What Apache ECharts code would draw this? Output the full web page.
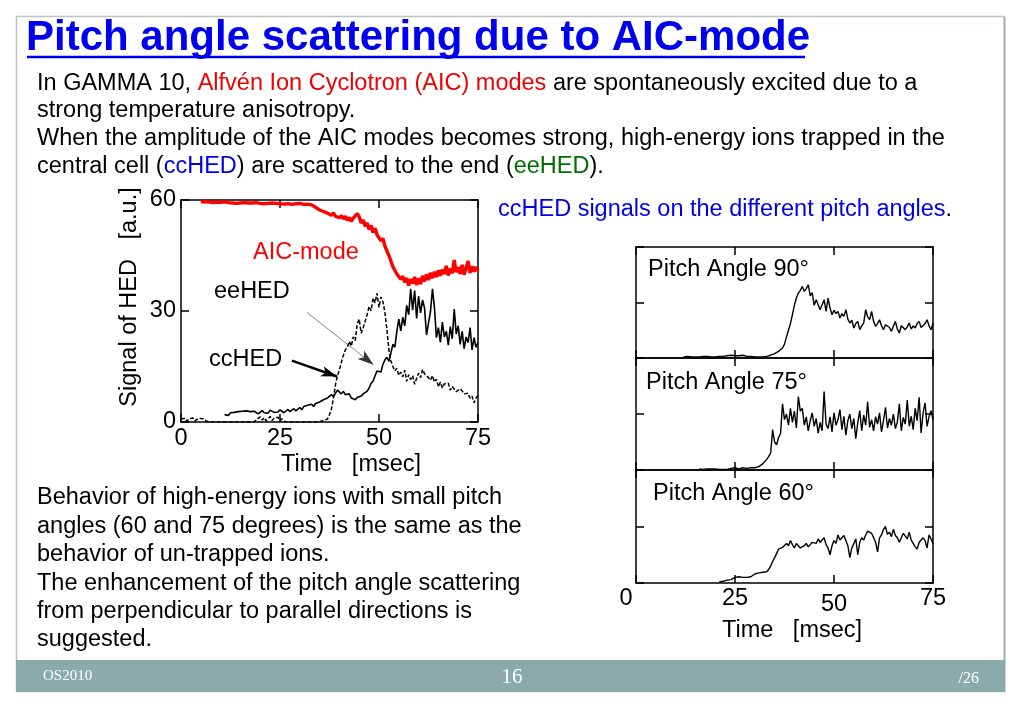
<!DOCTYPE html>
<html>
<head>
<meta charset="utf-8">
<script src="https://cdn.jsdelivr.net/npm/echarts@6/dist/echarts.min.js"></script>
<style>
html,body{margin:0;padding:0;background:#fff;}
#c{width:1023px;height:708px;}
</style>
</head>
<body>
<div id="c"></div>
<script>
// ---------- data (sampled every 0.5 msec) ----------
const STEP = 0.5;
const aicStart = 5;
const aicValues = [
 59.5,59.4,59.6,59.3,59.5,59.4,59.3,59.5,59.4,59.2,59.4,59.3,59.5,59.2,59.3,59.4,59.2,59.3,59.1,59.3,
 59.2,59.0,59.3,59.1,59.2,59.0,59.2,59.1,59.3,59.0,59.1,59.2,59.0,59.2,59.1,58.9,59.2,59.0,59.1,59.2,
 59.0,59.1,58.9,59.2,59.0,59.1,58.8,59.1,59.0,58.9,59.1,59.0,58.8,59.1,58.9,59.0,
 58.7,58.4,58.0,57.8,57.3,57.6,56.9,57.0,56.4,56.8,55.9,56.5,55.6,56.1,
 55.2,55.8,54.9,55.6,54.5,55.3,54.2,55.1,54.6,56.3,
 55.5,53.8,54.6,52.9,53.8,52.0,53.1,51.2,52.4,50.6,
 50.5,49.0,49.6,47.5,47.2,45.0,44.5,42.0,41.8,40.0,
 40.5,38.6,39.4,37.8,38.9,36.9,38.6,37.4,39.2,37.0,
 38.8,37.3,39.5,38.0,39.9,38.4,40.3,38.9,40.6,39.2,
 41.0,39.5,41.2,40.0,42.2,39.6,41.5,40.2,43.8,40.5,
 41.8,40.0,42.5,39.8,41.6,43.5,40.3,42.1,40.6,41.9,40.8
];
const ccStart = 11;
const ccValues = [
 2.0,2.3,1.8,2.5,2.2,2.6,2.1,2.8,2.4,2.9,2.6,3.0,2.5,2.8,2.3,2.9,2.6,2.2,
 2.7,3.1,2.5,2.9,2.4,3.2,2.8,2.6,3.1,2.7,3.3,2.9,2.5,3.0,3.4,2.8,3.2,3.6,3.0,3.5,
 3.9,3.3,4.2,3.7,4.5,4.0,4.8,4.2,5.0,4.6,5.4,5.1,6.0,5.6,6.5,6.9,
 7.4,6.8,7.8,8.6,8.1,7.6,8.3,7.4,7.0,7.6,6.5,6.2,6.0,6.6,
 6.3,7.0,7.6,7.2,8.3,9.2,10.4,11.0,12.5,13.8,
 14.2,13.5,15.6,16.8,17.5,16.4,18.6,21.0,20.2,24.5,
 27.8,24.6,28.3,26.0,31.5,29.0,36.0,30.2,35.5,28.0,
 34.0,29.5,33.0,30.8,23.5,26.8,29.8,36.0,31.0,22.8,
 25.5,21.5,27.0,23.0,24.5,20.8,25.8,22.5,30.5,23.8,
 26.0,21.0,24.5,19.8,23.0,21.5,25.5,19.5,22.8,20.2,21.5
];
const eeStart = 0;
const eeValues = [
 0.8,0.3,1.0,0.2,0.9,0.4,1.1,0.3,0.8,1.0,1.1,0.9,1.0,0.2,0,0,0,0,0,0,
 0,0,0,0,0,0,0,0,0,0,0,0,0,0,0,0,0,0,0.6,0.2,
 1.4,0.5,1.2,0.3,0.8,1.5,0.4,1.0,0.6,1.3,0.3,0.9,0.2,0,0,0,0,0,0,0,
 0,0,0,0,0,0,0,0,0,0.2,0.1,0.3,0.4,0.6,
 0.8,2.0,3.5,6.5,10.0,12.5,14.0,16.2,18.0,19.5,
 20.2,21.8,20.5,23.0,22.0,26.5,27.8,24.0,25.5,27.2,
 29.0,31.2,30.0,33.5,32.2,34.8,31.0,33.8,32.5,29.5,
 25.0,19.5,16.5,15.0,13.8,14.5,12.6,13.5,12.2,14.0,
 11.0,12.8,11.5,12.5,10.2,11.8,13.2,12.0,14.2,13.0,
 13.5,12.0,11.3,12.5,10.8,11.6,9.5,10.8,9.2,10.3,
 9.8,10.5,8.6,9.6,8.9,8.2,8.0,9.0,8.4,7.6,
 7.2,7.8,6.4,7.0,5.2,6.5,7.2
];
const p90Start = 12;
const p90Values = [
 0.02,0.02,0.03,0.02,0.02,0.03,0.02,0.03,0.02,0.02,0.03,0.02,0.03,0.03,0.02,0.03,0.02,0.03,0.03,0.02,
 0.03,0.03,0.04,0.03,0.05,0.04,0.04,0.05,0.04,0.03,0.05,0.04,0.03,0.04,0.03,0.03,
 0.02,0.03,0.02,0.03,0.02,0.03,0.03,0.04,0.05,0.06,0.08,0.10,
 0.12,0.14,0.18,0.25,0.38,0.50,0.62,0.78,
 0.95,1.08,1.17,1.22,1.29,1.20,1.25,1.32,1.12,1.18,
 0.95,1.05,1.08,0.87,0.96,1.05,0.84,1.08,0.90,0.78,
 0.86,0.80,0.84,0.72,0.80,0.75,0.87,0.70,0.63,0.68,
 0.54,0.62,0.66,0.51,0.58,0.63,0.87,0.74,0.69,0.84,
 0.66,0.57,0.62,0.69,0.58,0.51,0.60,0.63,0.55,0.48,
 0.57,0.66,0.52,0.45,0.58,0.60,0.51,0.56,0.63,0.52,
 0.58,0.54,0.62,0.66,0.55,0.57,0.62,0.69,0.58,0.51,0.62
];
const p75Start = 16;
const p75Values = [
 0.02,0.03,0.01,0.03,0.02,0.03,0.02,0.01,0.02,0.01,0.01,0.02,0.01,0.01,0.01,0.02,
 0.03,0.02,0.04,0.03,0.02,0.03,0.04,0.02,0.03,0.03,0.04,0.03,
 0.04,0.05,0.06,0.08,0.11,0.15,0.19,0.24,
 0.30,0.72,0.50,0.45,0.58,0.65,1.18,0.90,1.00,0.80,1.10,0.85,
 1.05,0.75,1.31,1.05,1.10,0.80,0.95,0.70,0.88,1.02,
 0.78,0.92,0.66,0.85,0.70,1.40,0.82,0.74,0.95,0.68,
 1.02,0.80,0.90,1.08,0.72,0.96,0.62,0.88,1.00,0.74,
 0.92,0.56,0.84,1.06,0.70,0.98,0.80,1.22,0.76,0.90,
 0.70,0.95,0.82,1.02,0.68,0.88,1.12,0.75,0.92,0.80,
 1.00,0.74,0.86,1.18,0.70,0.94,0.82,1.25,0.78,0.96,
 0.72,1.10,0.88,1.30,0.66,1.02,1.20,0.78,0.95,1.06,0.90
];
const p60Start = 21;
const p60Values = [
 0.02,0.04,0.03,0.06,0.05,0.08,0.06,0.09,
 0.10,0.08,0.11,0.09,0.10,0.12,0.10,0.13,0.11,0.12,
 0.16,0.14,0.18,0.15,0.19,0.17,0.20,0.24,0.30,0.38,
 0.45,0.52,0.60,0.57,0.63,0.60,0.70,0.66,0.75,0.68,
 0.62,0.70,0.68,0.62,0.60,0.66,0.70,0.64,0.65,0.72,
 0.75,0.70,0.78,0.72,0.72,0.80,0.68,0.62,0.50,0.66,
 0.75,0.70,0.85,0.76,0.78,0.84,0.82,0.66,0.45,0.62,
 0.70,0.78,0.50,0.72,0.80,0.76,0.85,0.92,0.95,0.88,
 0.90,0.72,0.55,0.80,0.85,0.95,1.00,0.86,0.90,0.82,
 0.95,0.84,0.80,0.72,0.70,0.88,0.85,0.78,0.90,0.76,
 0.75,0.64,0.60,0.72,0.70,0.80,0.75,0.62,0.85,0.78,0.70
];
const timeTicks = [0, 25, 50, 75];
const leftYTicks = [0, 30, 60];

// ---------- helpers ----------
function pairs(start, vals){ return vals.map((v,i)=>[start + i*STEP, v]); }
const SANS = '"Liberation Sans", Arial, Helvetica, sans-serif';
const SERIF = '"Liberation Serif", "Times New Roman", serif';
const FS = 23.5;

function mkLine(){ return {show:true, onZero:false, lineStyle:{color:'#000', width:1.5}}; }
function mkTick(){ return {show:true, inside:true, length:8, lineStyle:{color:'#000', width:1.5}}; }

function axisPair(gridIndex, showLabel, labelOpts){
  return [
    {type:'value', gridIndex, min:timeTicks[0], max:timeTicks[3], interval:timeTicks[1]-timeTicks[0], position:'bottom',
     axisLine:mkLine(), axisTick:mkTick(), splitLine:{show:false},
     axisLabel: Object.assign({show:showLabel, color:'#000', fontSize:FS, fontFamily:SANS, margin:5}, labelOpts||{})},
    {type:'value', gridIndex, min:timeTicks[0], max:timeTicks[3], interval:timeTicks[1]-timeTicks[0], position:'top',
     axisLine:mkLine(), axisTick:mkTick(), splitLine:{show:false}, axisLabel:{show:false}}
  ];
}
function yPair(gridIndex, showLabel, yMax, yInt){
  return [
    {type:'value', gridIndex, min:0, max:yMax, interval:yInt, position:'left',
     axisLine:mkLine(), axisTick:mkTick(), splitLine:{show:false},
     axisLabel:{show:showLabel, color:'#000', fontSize:FS, fontFamily:SANS, margin:5}},
    {type:'value', gridIndex, min:0, max:yMax, interval:yInt, position:'right',
     axisLine:mkLine(), axisTick:mkTick(), splitLine:{show:false}, axisLabel:{show:false}}
  ];
}

const xAxes = [].concat(
  axisPair(0, true),
  axisPair(1, false),
  axisPair(2, false),
  axisPair(3, true, {
    margin:4,
    formatter: v => v === 0 ? '{z|0}' : (v === 50 ? '{f|50}' : String(v)),
    rich:{ z:{fontSize:FS, fontFamily:SANS, color:'#000', padding:[0,20,0,0]},
           f:{fontSize:FS, fontFamily:SANS, color:'#000', padding:[6,0,0,0]} }
  })
);
const yAxes = [].concat(
  yPair(0, true, leftYTicks[2], leftYTicks[1]-leftYTicks[0]),
  yPair(1, false, 2, 1),
  yPair(2, false, 2, 1),
  yPair(3, false, 2, 1)
);

function lineSeries(name, data, xi, yi, color, width, type, extra){
  return Object.assign({
    name, type:'line', data, xAxisIndex:xi, yAxisIndex:yi,
    showSymbol:false, symbol:'none', animation:false, silent:true,
    lineStyle:{color, width, type: type||'solid'}, z:3
  }, extra||{});
}

const series = [
  lineSeries('eeHED', pairs(eeStart, eeValues), 0, 0, '#000', 1.5, [4,2]),
  lineSeries('ccHED', pairs(ccStart, ccValues), 0, 0, '#000', 1.6, 'solid', {
    markLine:{
      silent:true, animation:false, label:{show:false},
      symbol:['none','arrow'],
      data:[
        [{coord:[28,16.6], lineStyle:{width:2.5, color:'#000', type:'solid'}, symbolSize:14},
         {coord:[39.4,12.3]}],
        [{coord:[31.8,29.6], lineStyle:{width:0.6, color:'#333', type:'solid'}, symbolSize:8},
         {coord:[48.6,15.5]}]
      ]
    }
  }),
  lineSeries('AIC-mode', pairs(aicStart, aicValues), 0, 0, '#ff0000', 3.4),
  lineSeries('Pitch Angle 90°', pairs(p90Start, p90Values), 2, 2, '#000', 1.4),
  lineSeries('Pitch Angle 75°', pairs(p75Start, p75Values), 4, 4, '#000', 1.4),
  lineSeries('Pitch Angle 60°', pairs(p60Start, p60Values), 6, 6, '#000', 1.4)
];

function txt(x, y, text, opts){
  return {type:'text', x, y, z:20, silent:true,
    style:Object.assign({text, fill:'#000', font: FS + 'px ' + SANS, textAlign:'left', textVerticalAlign:'middle'}, opts||{})};
}
function rich(x, y, text, opts){
  const base = {fontSize:FS, fontFamily:SANS};
  return {type:'text', x, y, z:20, silent:true,
    style:Object.assign({text, font: FS + 'px ' + SANS, textAlign:'left', textVerticalAlign:'middle', fill:'#000',
      rich:{k:Object.assign({fill:'#000'},base), r:Object.assign({fill:'#f00000'},base),
            b:Object.assign({fill:'#0000e8'},base), g:Object.assign({fill:'#007000'},base)}}, opts||{})};
}

const graphic = [
  {type:'rect', z:-1, silent:true, shape:{x:16.5, y:16.5, width:988, height:675}, style:{fill:'#fff', stroke:'#bcc4c4', lineWidth:1.5}},
  {type:'line', z:-1, silent:true, shape:{x1:1004.5, y1:17, x2:1004.5, y2:692}, style:{stroke:'#a7b0b0', lineWidth:2}},
  {type:'rect', z:1, silent:true, shape:{x:16, y:660, width:989, height:32}, style:{fill:'#8aabaa'}},
  txt(43, 676, 'OS2010', {fill:'#fff', font:'15px ' + SERIF}),
  txt(512, 677, '16', {fill:'#fff', font:'21px ' + SERIF, textAlign:'center'}),
  txt(979, 679, '/26', {fill:'#fff', font:'16px ' + SERIF, textAlign:'right'}),
  // title
  txt(26, 38, 'Pitch angle scattering due to AIC-mode', {fill:'#0000f0', font:'bold 42px ' + SANS}),
  {type:'line', z:20, silent:true, shape:{x1:27, y1:57, x2:805, y2:57}, style:{stroke:'#0000f0', lineWidth:2.5}},
  // intro text
  rich(37, 84, '{k|In GAMMA 10, }{r|Alfvén Ion Cyclotron (AIC) modes}{k| are spontaneously excited due to a}'),
  txt(37, 111, 'strong temperature anisotropy.'),
  txt(37, 139, 'When the amplitude of the AIC modes becomes strong, high-energy ions trapped in the'),
  rich(37, 167, '{k|central cell (}{b|ccHED}{k|) are scattered to the end (}{g|eeHED}{k|).}'),
  rich(498, 210, '{b|ccHED signals on the different pitch angles}{k|.}'),
  // left chart annotations
  txt(253, 253, 'AIC-mode', {fill:'#ff0000'}),
  txt(214, 292, 'eeHED'),
  txt(209, 360, 'ccHED'),
  {type:'text', x:130, y:297, rotation:Math.PI/2, z:20, silent:true,
   style:{text:'Signal of HED   [a.u.]', fill:'#000', font:FS + 'px ' + SANS, textAlign:'center', textVerticalAlign:'middle'}},
  txt(351, 465, 'Time   [msec]', {textAlign:'center'}),
  // right panel labels
  txt(648, 270, 'Pitch Angle 90°'),
  txt(646, 383, 'Pitch Angle 75°'),
  txt(653, 494, 'Pitch Angle 60°'),
  txt(792, 631, 'Time   [msec]', {textAlign:'center'}),
  // lower-left text
  txt(37, 498, 'Behavior of high-energy ions with small pitch'),
  txt(37, 527, 'angles (60 and 75 degrees) is the same as the'),
  txt(37, 555, 'behavior of un-trapped ions.'),
  txt(37, 584, 'The enhancement of the pitch angle scattering'),
  txt(37, 612, 'from perpendicular to parallel directions is'),
  txt(37, 640, 'suggested.')
];

const option = {
  backgroundColor:'#fff',
  animation:false,
  grid:[
    {left:181, top:200, width:297, height:222},
    {left:636, top:247, width:297, height:111},
    {left:636, top:358, width:297, height:112},
    {left:636, top:470, width:297, height:113}
  ],
  xAxis:xAxes,
  yAxis:yAxes,
  series,
  graphic
};
const chart = echarts.init(document.getElementById('c'), null, {renderer:'canvas'});
chart.setOption(option);
</script>
</body>
</html>
